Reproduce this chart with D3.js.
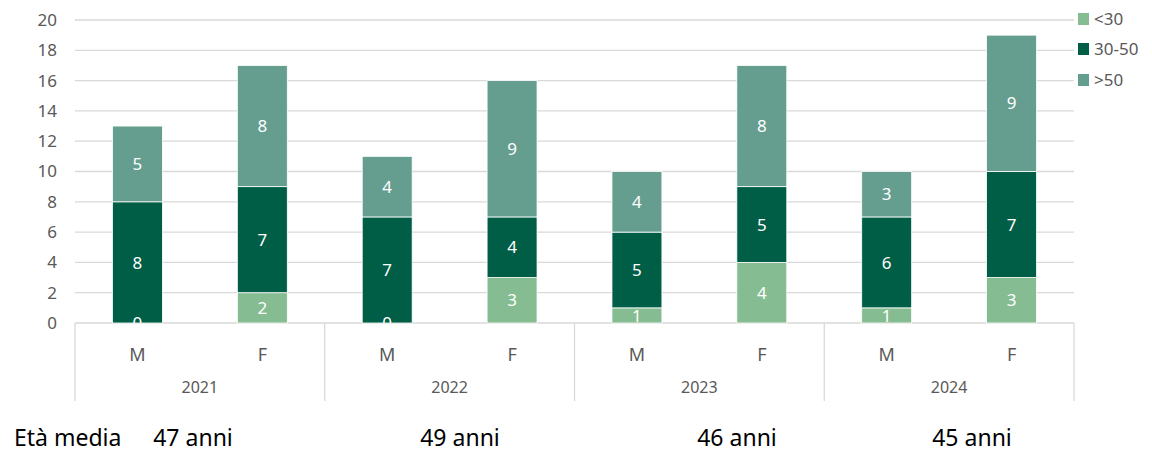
<!DOCTYPE html>
<html>
<head>
<meta charset="utf-8">
<script src="https://cdn.jsdelivr.net/npm/d3@7"></script>
<style>
  body { margin: 0; background: #fff; }
  svg text { font-family: "Noto Sans", "Open Sans", sans-serif; }
</style>
</head>
<body>
<div id="chart"></div>
<script>
// data
var years = ["2021", "2022", "2023", "2024"];
var sexes = ["M", "F"];
var seriesNames = ["<30", "30-50", ">50"];
var under30 = [0, 2, 0, 3, 1, 4, 1, 3];
var from30to50 = [8, 7, 7, 4, 5, 5, 6, 7];
var over50 = [5, 8, 4, 9, 4, 8, 3, 9];
var ages = ["47 anni", "49 anni", "46 anni", "45 anni"];
var yTicks = [0, 2, 4, 6, 8, 10, 12, 14, 16, 18, 20];

var colors = ["#86bc91", "#005e46", "#659e8f"];

var w = 1152, h = 452;
var plotL = 75, plotR = 1074, plotT = 20, plotB = 323;

var svg = d3.select("#chart").append("svg")
  .attr("width", w).attr("height", h);

// one row per bar
var rows = [];
years.forEach(function (yr, i) {
  sexes.forEach(function (s, j) {
    var k = i * 2 + j;
    rows.push({ key: yr + "-" + s, year: yr, sex: s, "<30": under30[k], "30-50": from30to50[k], ">50": over50[k] });
  });
});

var x = d3.scaleBand()
  .domain(rows.map(function (d) { return d.key; }))
  .range([plotL, plotR])
  .paddingInner(0.6)
  .paddingOuter(0.3);

var y = d3.scaleLinear().domain([0, 20]).range([plotB, plotT]);

var stack = d3.stack().keys(seriesNames)(rows);

// gridlines
svg.append("g")
  .selectAll("line")
  .data(yTicks)
  .enter().append("line")
  .attr("x1", plotL).attr("x2", plotR)
  .attr("y1", function (d) { return y(d); })
  .attr("y2", function (d) { return y(d); })
  .attr("stroke", "#d9d9d9")
  .attr("stroke-width", 1.3);

// y axis labels
var yAxis = d3.axisLeft(y).tickValues(yTicks).tickSize(0).tickPadding(0);
var ga = svg.append("g")
  .attr("transform", "translate(57,0)")
  .call(yAxis);
ga.select(".domain").remove();
ga.selectAll("text")
  .attr("fill", "#595959")
  .attr("font-size", 17)
  .style("font-family", "'Noto Sans', sans-serif");

svg.append("clipPath").attr("id", "plotclip")
  .append("rect")
  .attr("x", plotL).attr("y", 0)
  .attr("width", plotR - plotL).attr("height", plotB);

// bars
var layers = svg.append("g").selectAll("g")
  .data(stack)
  .enter().append("g")
  .attr("fill", function (d, i) { return colors[i]; });

layers.selectAll("rect")
  .data(function (d) { return d; })
  .enter().append("rect")
  .attr("x", function (d) { return x(d.data.key); })
  .attr("width", x.bandwidth())
  .attr("y", function (d) { return y(d[1]); })
  .attr("height", function (d) { return y(d[0]) - y(d[1]); })
  .attr("stroke", "#fff")
  .attr("stroke-width", 0.8);

// value labels
var labels = svg.append("g").attr("clip-path", "url(#plotclip)");
stack.forEach(function (layer) {
  labels.selectAll(null)
    .data(layer)
    .enter().append("text")
    .attr("x", function (d) { return x(d.data.key) + x.bandwidth() / 2; })
    .attr("y", function (d) { return y((d[0] + d[1]) / 2); })
    .attr("dy", "0.36em")
    .attr("text-anchor", "middle")
    .attr("fill", "#fff")
    .attr("font-size", 17)
    .text(function (d) { return d[1] - d[0]; });
});

// category axis: group separators
var groupEdges = [plotL];
years.forEach(function (yr, i) {
  var k = rows[i * 2 + 1].key;
  groupEdges.push(i === years.length - 1 ? plotR : x(k) + x.step() * 0.7);
});
svg.append("g")
  .selectAll("line")
  .data(groupEdges)
  .enter().append("line")
  .attr("x1", function (d) { return d; })
  .attr("x2", function (d) { return d; })
  .attr("y1", plotB).attr("y2", 401)
  .attr("stroke", "#d9d9d9")
  .attr("stroke-width", 1.3);

// M / F labels
svg.append("g")
  .selectAll("text")
  .data(rows)
  .enter().append("text")
  .attr("x", function (d) { return x(d.key) + x.bandwidth() / 2; })
  .attr("y", 361)
  .attr("text-anchor", "middle")
  .attr("fill", "#595959")
  .attr("font-size", 18)
  .text(function (d) { return d.sex; });

// year labels
svg.append("g")
  .selectAll("text")
  .data(years)
  .enter().append("text")
  .attr("x", function (d, i) { return (groupEdges[i] + groupEdges[i + 1]) / 2; })
  .attr("y", 393)
  .attr("text-anchor", "middle")
  .attr("fill", "#595959")
  .attr("font-size", 16)
  .text(function (d) { return d; });

// legend
var legend = svg.append("g").attr("transform", "translate(1078,0)");
var legY = [19, 49, 80];
seriesNames.forEach(function (name, i) {
  legend.append("rect")
    .attr("x", 0).attr("y", legY[i] - 6)
    .attr("width", 11).attr("height", 12)
    .attr("fill", colors[i]);
  legend.append("text")
    .attr("x", 16).attr("y", legY[i])
    .attr("dy", "0.36em")
    .attr("fill", "#595959")
    .attr("font-size", 17)
    .text(name);
});

// età media row
svg.append("text")
  .attr("x", 14).attr("y", 446)
  .attr("fill", "#000")
  .attr("font-size", 23)
  .text("Età media");

var ageX = [193, 460, 737, 972];
svg.append("g")
  .selectAll("text")
  .data(ages)
  .enter().append("text")
  .attr("x", function (d, i) { return ageX[i]; })
  .attr("y", 446)
  .attr("text-anchor", "middle")
  .attr("fill", "#000")
  .attr("font-size", 23)
  .text(function (d) { return d; });
</script>
</body>
</html>
